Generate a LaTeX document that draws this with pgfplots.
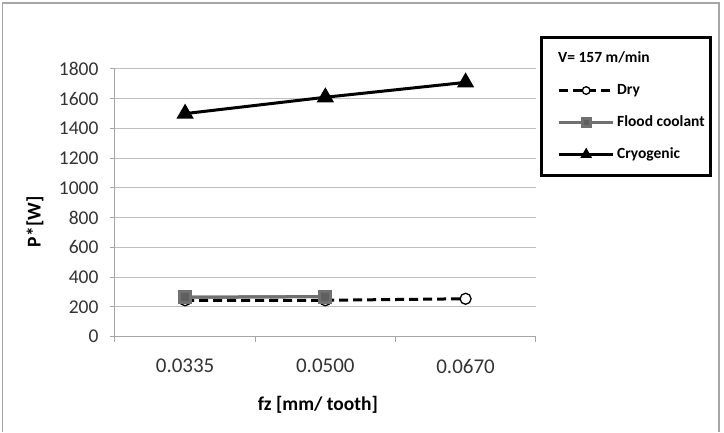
\documentclass[border=0pt]{standalone}
\usepackage{fontspec}
\setmainfont{Carlito}
\usepackage{pgfplots}
\pgfplotsset{compat=1.18}
\definecolor{gridgray}{HTML}{BFBFBF}
\definecolor{axisgray}{HTML}{A6A6A6}
\definecolor{floodgray}{HTML}{707070}
\begin{document}
\begin{tikzpicture}[x=1pt,y=1pt]
\path (0,0) rectangle (724,432);
% outer chart frame
\draw[axisgray, line width=1.5pt] (2.5,0) -- (2.5,429) -- (719,429) -- (719,0);
\begin{axis}[
  at={(115pt,95.3pt)}, anchor=south west,
  scale only axis, width=420.7pt, height=267.7pt,
  xmin=-0.5, xmax=2.5, ymin=0, ymax=1800,
  axis x line*=bottom, axis y line*=left,
  axis line style={axisgray, line width=1pt, -},
  xtick={-0.5,0.5,1.5,2.5}, xticklabels={},
  extra x ticks={0,1,2},
  extra x tick labels={0.0335,0.0500,0.0670},
  extra x tick style={major tick length=0pt},
  ytick={0,200,...,1800},
  ymajorgrids, grid style={gridgray, line width=1pt},
  tick align=outside, major tick length=5pt,
  tick style={axisgray, line width=1pt},
  ticklabel style={text=black!80},
  xticklabel style={font=\fontsize{21}{23}\selectfont, yshift=-19pt},
  yticklabel style={font=\fontsize{19.5}{21}\selectfont, xshift=-8pt},
  /pgf/number format/assume math mode=true,
  /pgf/number format/set thousands separator={},
  xlabel={fz [mm/ tooth]},
  xlabel style={at={(axis description cs:0.4825,-0.255)}, anchor=center,
    font=\bfseries\fontsize{19.5}{21}\selectfont},
  ylabel={P*[W]},
  ylabel style={at={(axis description cs:-0.19,0.429)}, anchor=center,
    font=\bfseries\fontsize{19.5}{21}\selectfont},
  legend image code/.code={
    \draw[mark repeat=2, mark phase=2, #1, mark size=3.8pt]
      plot coordinates {(0pt,0pt) (27pt,0pt) (54pt,0pt)};},
  legend style={at={(axis description cs:1.0095,1.1232)}, anchor=north west,
    draw=black, line width=3pt, fill=white,
    font=\bfseries\fontsize{15.5}{17}\selectfont,
    inner xsep=16.5pt, inner ysep=14pt, row sep=18pt,
    nodes={inner xsep=2.5pt, inner ysep=0pt, text height=11pt, text depth=3pt, anchor=west}},
  legend cell align=left,
]
  \addlegendimage{empty legend}
  \addlegendentry{\hspace*{-59pt}V= 157 m/min}

  % Flood coolant line (drawn below the dry series)
  \addplot[floodgray, line width=3pt, forget plot] coordinates {
    (0,265) (1,270)
  };

  \addplot[black, line width=3pt, dash pattern=on 9pt off 5pt,
    mark=*, mark size=5.5pt,
    mark options={solid, fill=white, draw=black, line width=1.3pt}]
    coordinates {
    (0,245) (1,245) (2,255)
  };
  \addlegendentry{Dry}

  \addplot[floodgray, line width=3pt, mark=square*, mark size=5.5pt,
    mark options={solid, fill=floodgray!85!black}]
    coordinates {
    (0,265) (1,270)
  };
  \addlegendentry{\makebox[74pt][l]{Flood coolant}}

  \addplot[black, line width=3pt, mark=triangle*, mark size=7pt,
    mark options={solid}]
    coordinates {
    (0,1500) (1,1610) (2,1710)
  };
  \addlegendentry{Cryogenic}
\end{axis}
\end{tikzpicture}
\end{document}
